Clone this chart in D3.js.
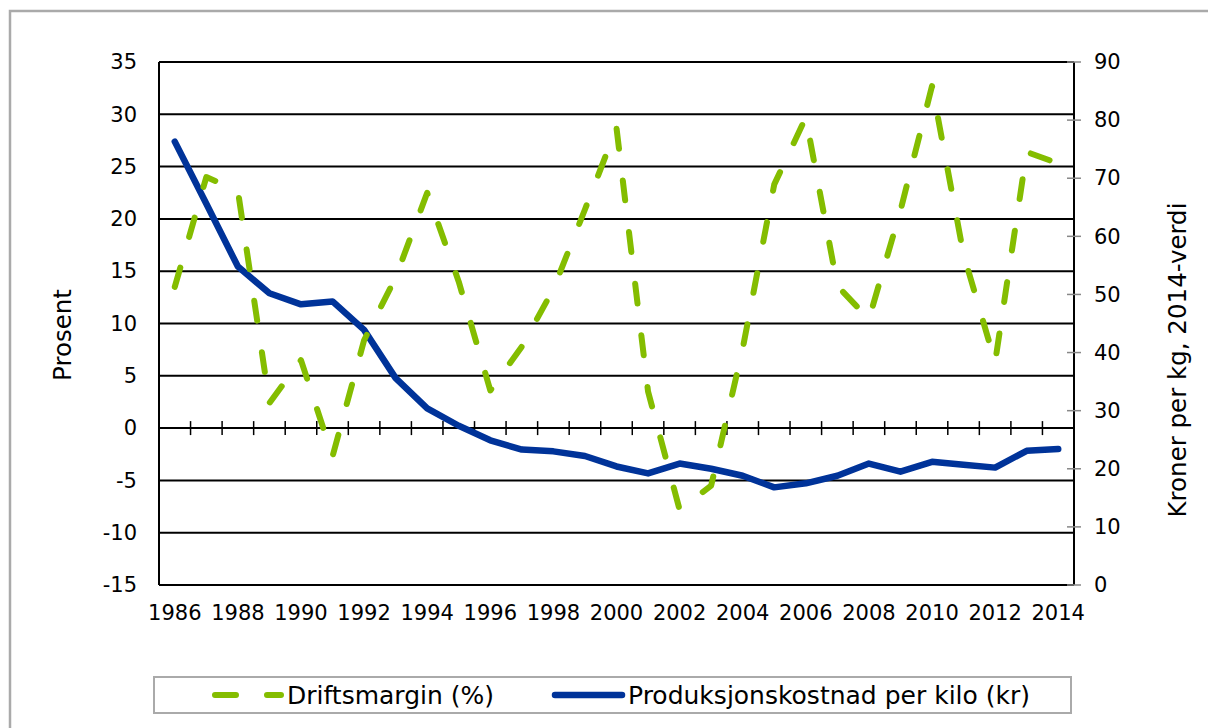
<!DOCTYPE html>
<html>
<head>
<meta charset="utf-8">
<script src="https://cdn.jsdelivr.net/npm/d3@7"></script>
<style>
  body { margin: 0; background: #fff; }
  svg text { font-family: "DejaVu Sans", Verdana, sans-serif; fill: #000; }
</style>
</head>
<body>
<div id="chart"></div>
<script>
// Years on the category axis
const years = d3.range(1986, 2015);

// Driftsmargin (%), left axis
const driftsmargin = [
  13.5, 24.0, 22.7, 2.4, 6.5, -2.7, 8.4, 14.4, 22.5, 14.0,
  3.6, 7.8, 13.3, 20.9, 28.7, 3.5, -7.8, -5.5, 7.6, 23.3,
  29.7, 13.6, 10.4, 20.8, 32.7, 16.6, 6.3, 26.4, 25.3
];

// Produksjonskostnad per kilo (kr), right axis
const kostnad = [
  76.3, 65.6, 54.8, 50.2, 48.3, 48.8, 43.9, 35.6, 30.4, 27.4,
  24.9, 23.3, 23.0, 22.2, 20.4, 19.2, 20.9, 20.0, 18.8, 16.8,
  17.5, 18.8, 20.9, 19.5, 21.2, 20.7, 20.2, 23.1, 23.4
];

const leftTicks = d3.range(-15, 36, 5);
const rightTicks = d3.range(0, 91, 10);
const yearLabels = years.filter(y => y % 2 === 0);

const width = 1208;
const height = 728;
const plot = { left: 159, right: 1074, top: 62, bottom: 585 };

const green = "#84bd00";
const blue = "#003399";

const svg = d3.select("#chart")
  .append("svg")
  .attr("width", width)
  .attr("height", height);

// outer frame (runs off the right and bottom edge)
svg.append("rect")
  .attr("x", 10).attr("y", 11)
  .attr("width", 1260).attr("height", 800)
  .attr("fill", "none")
  .attr("stroke", "#aaaaaa")
  .attr("stroke-width", 2.5);

// Scales
const x = d3.scaleBand()
  .domain(years)
  .range([plot.left, plot.right])
  .padding(0);

const yLeft = d3.scaleLinear()
  .domain([-15, 35])
  .range([plot.bottom, plot.top]);

const yRight = d3.scaleLinear()
  .domain([0, 90])
  .range([plot.bottom, plot.top]);

const cx = d => x(d) + x.bandwidth() / 2;

// Horizontal gridlines (include the top and bottom border)
svg.append("g")
  .selectAll("line")
  .data(leftTicks)
  .enter()
  .append("line")
  .attr("x1", plot.left)
  .attr("x2", plot.right)
  .attr("y1", d => yLeft(d))
  .attr("y2", d => yLeft(d))
  .attr("stroke", "#000")
  .attr("stroke-width", 2);

// Vertical axis lines
svg.append("line")
  .attr("x1", plot.left).attr("x2", plot.left)
  .attr("y1", plot.top).attr("y2", plot.bottom)
  .attr("stroke", "#000").attr("stroke-width", 2);
svg.append("line")
  .attr("x1", plot.right).attr("x2", plot.right)
  .attr("y1", plot.top).attr("y2", plot.bottom)
  .attr("stroke", "#000").attr("stroke-width", 2);

// Category tick marks crossing the zero line
const y0 = yLeft(0);
svg.append("g")
  .selectAll("line")
  .data(years.slice(1))
  .enter()
  .append("line")
  .attr("x1", d => x(d))
  .attr("x2", d => x(d))
  .attr("y1", y0 - 7)
  .attr("y2", y0 + 7)
  .attr("stroke", "#000")
  .attr("stroke-width", 1.5);

// Right axis tick marks
svg.append("g")
  .selectAll("line")
  .data(rightTicks)
  .enter()
  .append("line")
  .attr("x1", plot.right - 7)
  .attr("x2", plot.right + 7)
  .attr("y1", d => yRight(d))
  .attr("y2", d => yRight(d))
  .attr("stroke", "#888")
  .attr("stroke-width", 1.5);

// Axes labels via d3 axes
const leftAxis = svg.append("g")
  .attr("transform", `translate(${plot.left}, 0)`)
  .call(d3.axisLeft(yLeft).tickValues(leftTicks).tickSize(0).tickPadding(22)
    .tickFormat(d => String(d)));

const rightAxis = svg.append("g")
  .attr("transform", `translate(${plot.right}, 0)`)
  .call(d3.axisRight(yRight).tickValues(rightTicks).tickSize(0).tickPadding(20)
    .tickFormat(d => String(d)));

const bottomAxis = svg.append("g")
  .attr("transform", `translate(0, ${plot.bottom})`)
  .call(d3.axisBottom(x).tickValues(yearLabels).tickSize(0).tickPadding(20)
    .tickFormat(d => String(d)));

[leftAxis, rightAxis, bottomAxis].forEach(g => {
  g.select(".domain").remove();
  g.selectAll("text")
    .style("font-family", '"DejaVu Sans", Verdana, sans-serif')
    .style("font-size", "21px")
    .attr("fill", "#000");
});

// Axis titles
svg.append("text")
  .attr("transform", "translate(71, 335) rotate(-90)")
  .attr("text-anchor", "middle")
  .style("font-size", "24.5px")
  .text("Prosent");

svg.append("text")
  .attr("transform", "translate(1186, 360) rotate(-90)")
  .attr("text-anchor", "middle")
  .style("font-size", "24.5px")
  .text("Kroner per kg, 2014-verdi");

// Lines
const lineLeft = d3.line()
  .x((d, i) => cx(years[i]))
  .y(d => yLeft(d));

const lineRight = d3.line()
  .x((d, i) => cx(years[i]))
  .y(d => yRight(d));

svg.append("path")
  .datum(kostnad)
  .attr("d", lineRight)
  .attr("fill", "none")
  .attr("stroke", blue)
  .attr("stroke-width", 6.5)
  .attr("stroke-linecap", "round")
  .attr("stroke-linejoin", "round");

svg.append("path")
  .datum(driftsmargin)
  .attr("d", lineLeft)
  .attr("fill", "none")
  .attr("stroke", green)
  .attr("stroke-width", 6)
  .attr("stroke-dasharray", "20,32")
  .attr("stroke-linecap", "round")
  .attr("stroke-linejoin", "round");

// Legend
const legend = svg.append("g");
legend.append("rect")
  .attr("x", 154).attr("y", 677)
  .attr("width", 917).attr("height", 36)
  .attr("fill", "#fff")
  .attr("stroke", "#aaaaaa")
  .attr("stroke-width", 2);

legend.append("line")
  .attr("x1", 215).attr("x2", 281)
  .attr("y1", 695).attr("y2", 695)
  .attr("stroke", green)
  .attr("stroke-width", 6)
  .attr("stroke-dasharray", "21,31")
  .attr("stroke-linecap", "round");

legend.append("text")
  .attr("x", 287).attr("y", 704)
  .style("font-size", "25px")
  .text("Driftsmargin (%)");

legend.append("line")
  .attr("x1", 555).attr("x2", 622)
  .attr("y1", 695).attr("y2", 695)
  .attr("stroke", blue)
  .attr("stroke-width", 6.5)
  .attr("stroke-linecap", "round");

legend.append("text")
  .attr("x", 628).attr("y", 704)
  .style("font-size", "25px")
  .text("Produksjonskostnad per kilo (kr)");
</script>
</body>
</html>
